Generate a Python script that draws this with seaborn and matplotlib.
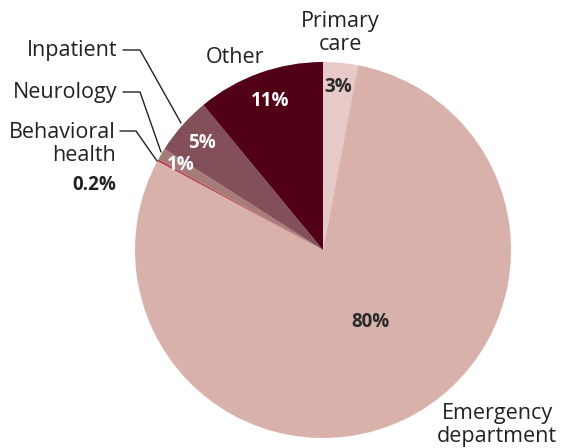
import numpy as np
import matplotlib
matplotlib.use("Agg")
import matplotlib.pyplot as plt
import seaborn as sns

categories = ["Primary care", "Emergency department", "Behavioral health", "Neurology", "Inpatient", "Other"]
values = [3, 80, 0.2, 1, 5, 11]
pct_labels = ["3%", "80%", "0.2%", "1%", "5%", "11%"]
colors = ["#e7cac7", "#d9b1ab", "#b8434f", "#a67c7b", "#83505a", "#520016"]

sns.set_theme(style="white")
plt.rcParams['font.family'] = ['Open Sans', 'DejaVu Sans']

W, H = 565, 448
fig = plt.figure(figsize=(W / 100, H / 100), dpi=100)
ax = fig.add_axes([0, 0, 1, 1])

cx, cy, R = 323, H - 250, 188
wedges, _ = ax.pie(values, colors=colors, startangle=90, counterclock=False,
                   center=(cx, cy), radius=R, frame=True,
                   wedgeprops=dict(linewidth=0))
ax.set_xlim(0, W)
ax.set_ylim(0, H)
ax.set_aspect("equal")
ax.axis("off")

pfs = 13.5
inside = {0: (0.87, "#2a2a2a", 0), 1: (0.46, "#2a2a2a", 8), 3: (0.88, "white", 0),
          4: (0.86, "white", 0), 5: (0.84, "white", 0)}
for i, w in enumerate(wedges):
    if i not in inside:
        continue
    frac, col, dang = inside[i]
    ang = np.deg2rad((w.theta1 + w.theta2) / 2 + dang)
    x = cx + frac * R * np.cos(ang)
    y = cy + frac * R * np.sin(ang)
    ax.text(x, y, pct_labels[i], ha="center", va="center", fontsize=pfs,
            fontweight="bold", color=col)

fs = 15.5
tc = "#222222"
ls = 1.18
ax.text(340, H - 33, "Primary\ncare", ha="center", va="center", fontsize=fs,
        color=tc, linespacing=ls)
ax.text(235, H - 57, "Other", ha="center", va="center", fontsize=fs, color=tc)
ax.text(497, H - 425, "Emergency\ndepartment", ha="center", va="center",
        fontsize=fs, color=tc, linespacing=ls)
ax.text(117, H - 50, "Inpatient", ha="right", va="center", fontsize=fs, color=tc)
ax.text(117, H - 92, "Neurology", ha="right", va="center", fontsize=fs, color=tc)
ax.text(116, H - 144, "Behavioral\nhealth", ha="right", va="center", fontsize=fs,
        color=tc, linespacing=ls)
ax.text(116, H - 185, pct_labels[2], ha="right", va="center", fontsize=pfs,
        fontweight="bold", color=tc)

lc = "#222222"
ax.plot([123, 140, 181], [H - 50, H - 50, H - 123], color=lc, lw=1)
ax.plot([123, 140, 161], [H - 92, H - 92, H - 152], color=lc, lw=1)
ax.plot([120, 136, 157], [H - 131, H - 131, H - 161], color=lc, lw=1)

fig.savefig("out.png", dpi=100, facecolor="white")
